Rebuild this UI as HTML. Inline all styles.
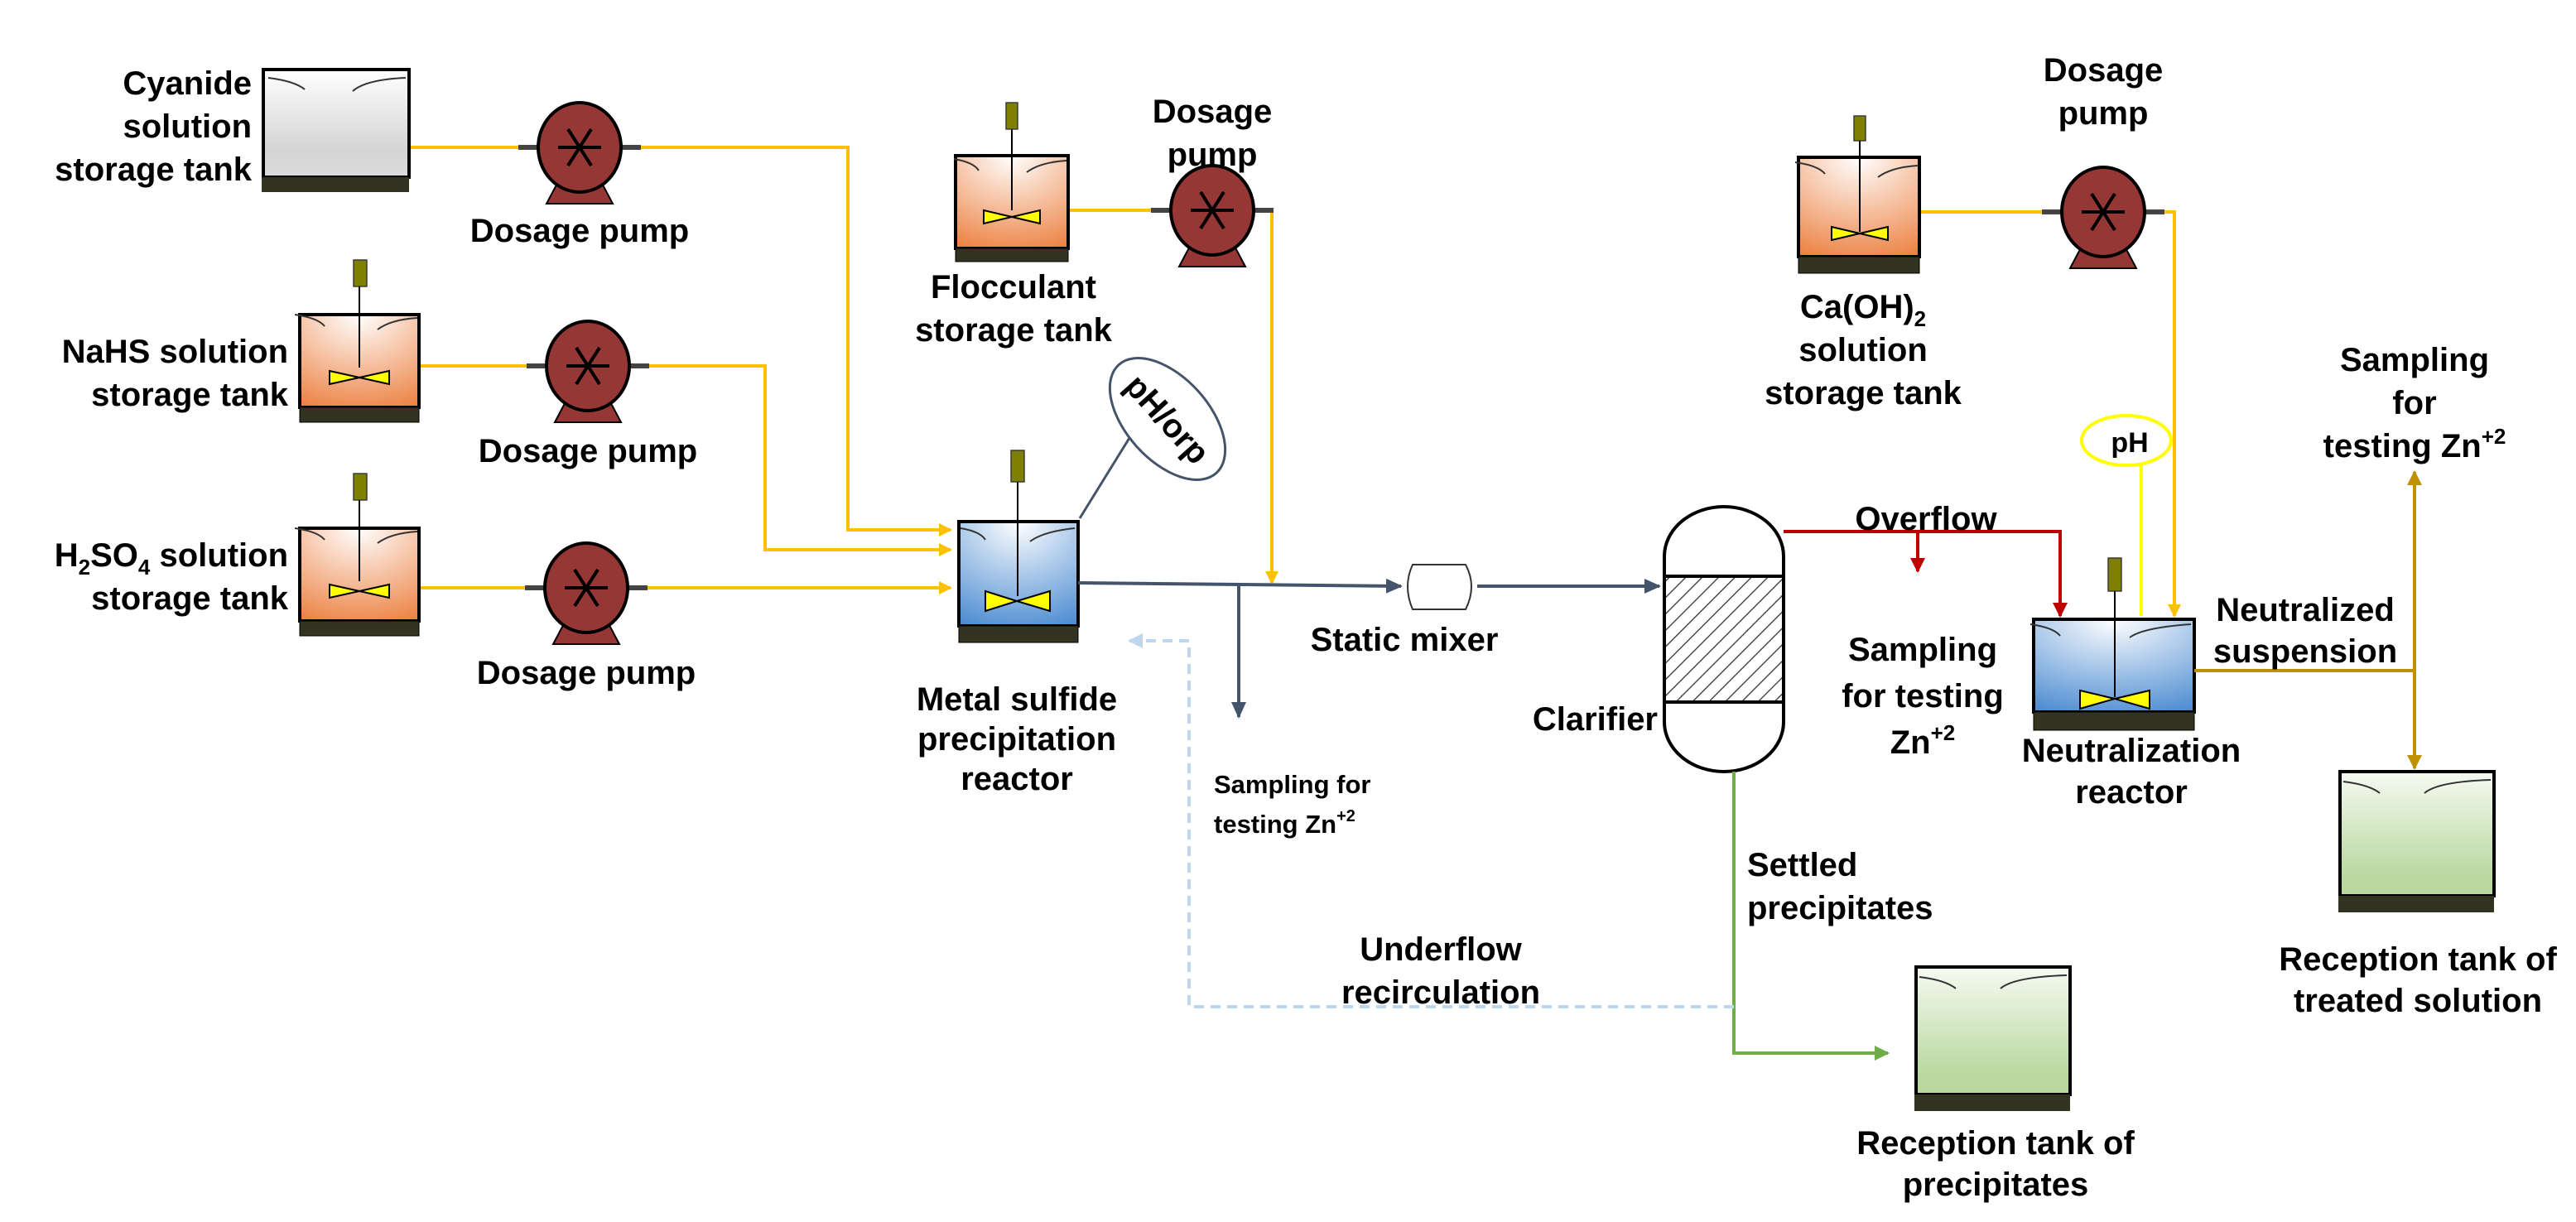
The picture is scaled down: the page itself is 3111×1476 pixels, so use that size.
<!DOCTYPE html>
<html><head><meta charset="utf-8"><style>
html,body{margin:0;padding:0;background:#fff;}
svg{display:block;}
text{font-family:"Liberation Sans",Arial,sans-serif;font-weight:bold;fill:#000;}
</style></head><body>
<svg width="3111" height="1476" viewBox="0 0 1555.5 738" xmlns="http://www.w3.org/2000/svg">
<defs>
<linearGradient id="gGray" x1="0" y1="0" x2="0" y2="1"><stop offset="0" stop-color="#ffffff"/><stop offset="0.75" stop-color="#d4d4d4"/><stop offset="1" stop-color="#dcdcdc"/></linearGradient>
<radialGradient id="gOr" cx="0.5" cy="0" r="1.1"><stop offset="0" stop-color="#ffffff"/><stop offset="1" stop-color="#ec8040"/></radialGradient>
<radialGradient id="gBl" cx="0.5" cy="0" r="1.1"><stop offset="0" stop-color="#ffffff"/><stop offset="1" stop-color="#4a8ad0"/></radialGradient>
<linearGradient id="gGr" x1="0" y1="0" x2="0" y2="1"><stop offset="0" stop-color="#f6faf2"/><stop offset="0.8" stop-color="#bcdaa4"/><stop offset="1" stop-color="#b8d89f"/></linearGradient>
<pattern id="hatch" width="7" height="7" patternUnits="userSpaceOnUse" patternTransform="rotate(45)"><rect width="7" height="7" fill="#fff"/><line x1="0" y1="0" x2="0" y2="7" stroke="#333" stroke-width="1.3"/></pattern>
<marker id="aY" markerWidth="8" markerHeight="8" refX="7" refY="4" orient="auto" markerUnits="userSpaceOnUse"><path d="M0,0 L8,4 L0,8 z" fill="#ffc000"/></marker>
<marker id="aB" markerWidth="10" markerHeight="9" refX="9" refY="4.5" orient="auto" markerUnits="userSpaceOnUse"><path d="M0,0 L10,4.5 L0,9 z" fill="#44546a"/></marker>
<marker id="aR" markerWidth="9" markerHeight="9" refX="8" refY="4.5" orient="auto" markerUnits="userSpaceOnUse"><path d="M0,0 L9,4.5 L0,9 z" fill="#c00000"/></marker>
<marker id="aG" markerWidth="9" markerHeight="9" refX="8" refY="4.5" orient="auto" markerUnits="userSpaceOnUse"><path d="M0,0 L9,4.5 L0,9 z" fill="#70ad47"/></marker>
<marker id="aO" markerWidth="9" markerHeight="9" refX="8" refY="4.5" orient="auto" markerUnits="userSpaceOnUse"><path d="M0,0 L9,4.5 L0,9 z" fill="#bf9000"/></marker>
<marker id="aL" markerWidth="9" markerHeight="9" refX="8" refY="4.5" orient="auto" markerUnits="userSpaceOnUse"><path d="M0,0 L9,4.5 L0,9 z" fill="#bdd7ee"/></marker>
<g id="pump">
<line x1="-37" y1="0" x2="37" y2="0" stroke="#444" stroke-width="3"/>
<polygon points="-20,34 20,34 11,17 -11,17" fill="#953735" stroke="#000" stroke-width="1"/>
<ellipse cx="0" cy="0" rx="25" ry="27" fill="#953735" stroke="#000" stroke-width="2"/>
<line x1="-13" y1="0" x2="13" y2="0" stroke="#000" stroke-width="2"/>
<line x1="-7" y1="-11" x2="7" y2="11" stroke="#000" stroke-width="2"/>
<line x1="7" y1="-11" x2="-7" y2="11" stroke="#000" stroke-width="2"/>
</g>
</defs>

<g fill="none" stroke="#ffc000" stroke-width="2">
<polyline points="247,89 320,89"/>
<polyline points="372,89 512,89 512,320 574,320" marker-end="url(#aY)"/>
<polyline points="254,221 328,221"/>
<polyline points="380,221 462,221 462,332 574,332" marker-end="url(#aY)"/>
<polyline points="254,355 328,355"/>
<polyline points="380,355 574,355" marker-end="url(#aY)"/>
<polyline points="645,127 707,127"/>
<polyline points="757,127 768,127 768,352" marker-end="url(#aY)"/>
<polyline points="1160,128 1245,128"/>
<polyline points="1295,128 1313,128 1313,372" marker-end="url(#aY)"/>
</g>

<!-- Cyanide tank -->
<rect x="159" y="42" width="88" height="65" fill="url(#gGray)" stroke="#000" stroke-width="2"/>
<rect x="158" y="107" width="89" height="9" fill="#333322"/>
<path d="M162,47 q16,2 22,7 M213,55 q8,-7 32,-8" stroke="#333" fill="none" stroke-width="1"/>
<text font-size="20" text-anchor="end"><tspan x="152" y="57">Cyanide</tspan><tspan x="152" y="83">solution</tspan><tspan x="152" y="109">storage tank</tspan></text>

<use href="#pump" x="350" y="89"/>
<text x="350" y="146" font-size="20" text-anchor="middle">Dosage pump</text>

<!-- NaHS tank -->
<rect x="181" y="190" width="72" height="56" fill="url(#gOr)" stroke="#000" stroke-width="2"/>
<rect x="181" y="246" width="72" height="9" fill="#333322" stroke="#000" stroke-width="0.5"/>
<path d="M178,190 q14,2 18,7 M228,199 q8,-6 24,-7" stroke="#333" fill="none"/>
<line x1="217" y1="170" x2="217" y2="222" stroke="#000"/>
<rect x="213.5" y="157" width="8" height="16" fill="#7f7f00" stroke="#333" stroke-width="0.7"/>
<polygon points="199,224 217,228 199,232" fill="#ffff00" stroke="#000"/>
<polygon points="235,224 217,228 235,232" fill="#ffff00" stroke="#000"/>
<text font-size="20" text-anchor="end"><tspan x="174" y="219">NaHS solution</tspan><tspan x="174" y="245">storage tank</tspan></text>
<use href="#pump" x="355" y="221"/>
<text x="355" y="279" font-size="20" text-anchor="middle">Dosage pump</text>

<!-- H2SO4 tank -->
<rect x="181" y="319" width="72" height="56" fill="url(#gOr)" stroke="#000" stroke-width="2"/>
<rect x="181" y="375" width="72" height="9" fill="#333322" stroke="#000" stroke-width="0.5"/>
<path d="M178,319 q14,2 18,7 M228,328 q8,-6 24,-7" stroke="#333" fill="none"/>
<line x1="217" y1="299" x2="217" y2="351" stroke="#000"/>
<rect x="213.5" y="286" width="8" height="16" fill="#7f7f00" stroke="#333" stroke-width="0.7"/>
<polygon points="199,353 217,357 199,361" fill="#ffff00" stroke="#000"/>
<polygon points="235,353 217,357 235,361" fill="#ffff00" stroke="#000"/>
<text font-size="20" text-anchor="end"><tspan x="174" y="342">H<tspan font-size="13" dy="5">2</tspan><tspan dy="-5">SO</tspan><tspan font-size="13" dy="5">4</tspan><tspan dy="-5"> solution</tspan></tspan><tspan x="174" y="368">storage tank</tspan></text>
<use href="#pump" x="354" y="355"/>
<text x="354" y="413" font-size="20" text-anchor="middle">Dosage pump</text>

<!-- Flocculant tank -->
<rect x="577" y="94" width="68" height="56" fill="url(#gOr)" stroke="#000" stroke-width="2"/>
<rect x="577" y="150" width="68" height="8" fill="#333322" stroke="#000" stroke-width="0.5"/>
<path d="M576,96 q12,2 15,7 M620,104 q8,-6 24,-7" stroke="#333" fill="none"/>
<line x1="611" y1="76" x2="611" y2="127" stroke="#000"/>
<rect x="607.5" y="62" width="7" height="16" fill="#7f7f00" stroke="#333" stroke-width="0.7"/>
<polygon points="594,127 611,131 594,135" fill="#ffff00" stroke="#000"/>
<polygon points="628,127 611,131 628,135" fill="#ffff00" stroke="#000"/>
<text font-size="20" text-anchor="middle"><tspan x="612" y="180">Flocculant</tspan><tspan x="612" y="206">storage tank</tspan></text>
<use href="#pump" x="732" y="127"/>
<text font-size="20" text-anchor="middle"><tspan x="732" y="74">Dosage</tspan><tspan x="732" y="100">pump</tspan></text>

<!-- pH/orp -->
<line x1="652" y1="313" x2="686" y2="258" stroke="#44546a" stroke-width="1.5"/>
<g transform="translate(705,253) rotate(48)">
<ellipse cx="0" cy="0" rx="44" ry="25" fill="#fff" stroke="#44546a" stroke-width="1.5"/>
<text x="0" y="7" font-size="20" text-anchor="middle">pH/orp</text>
</g>

<!-- Metal sulfide reactor -->
<rect x="579" y="315" width="72" height="63" fill="url(#gBl)" stroke="#000" stroke-width="2"/>
<rect x="579" y="378" width="72" height="10" fill="#333322" stroke="#000" stroke-width="0.5"/>
<path d="M580,319 q12,2 15,7 M622,327 q8,-6 27,-8" stroke="#333" fill="none"/>
<line x1="614.5" y1="290" x2="614.5" y2="360" stroke="#000"/>
<rect x="610.5" y="272" width="8" height="19" fill="#7f7f00" stroke="#333" stroke-width="0.7"/>
<polygon points="595,357 614,363 595,369" fill="#ffff00" stroke="#000"/>
<polygon points="634,357 614,363 634,369" fill="#ffff00" stroke="#000"/>
<text font-size="20" text-anchor="middle"><tspan x="614" y="429">Metal sulfide</tspan><tspan x="614" y="453">precipitation</tspan><tspan x="614" y="477">reactor</tspan></text>

<g fill="none" stroke="#44546a" stroke-width="2">
<polyline points="651,352 846,354" marker-end="url(#aB)"/>
<polyline points="748,353 748,433" marker-end="url(#aB)"/>
<polyline points="892,354 1002,354" marker-end="url(#aB)"/>
</g>
<text font-size="15.5"><tspan x="733" y="479">Sampling for</tspan><tspan x="733" y="503">testing Zn<tspan font-size="10" dy="-7">+2</tspan></tspan></text>

<path d="M853,341 L885,341 Q892,354 885,368 L853,368 Q847,354 853,341 z" fill="#fff" stroke="#333" stroke-width="1"/>
<text x="848" y="393" font-size="20" text-anchor="middle">Static mixer</text>

<rect x="1005" y="348" width="72" height="76" fill="url(#hatch)"/>
<path d="M1005,336 A36,30 0 0 1 1077,336 L1077,436 A36,30 0 0 1 1005,436 Z" fill="none" stroke="#000" stroke-width="2"/>
<line x1="1005" y1="348" x2="1077" y2="348" stroke="#000" stroke-width="2"/>
<line x1="1005" y1="424" x2="1077" y2="424" stroke="#000" stroke-width="2"/>
<text x="1001" y="441" font-size="20" text-anchor="end">Clarifier</text>

<g fill="none" stroke="#c00000" stroke-width="2">
<polyline points="1077,321 1244,321 1244,372" marker-end="url(#aR)"/>
<polyline points="1158,321 1158,345" marker-end="url(#aR)"/>
</g>
<text x="1163" y="320" font-size="20" text-anchor="middle">Overflow</text>
<text font-size="20" text-anchor="middle"><tspan x="1161" y="399">Sampling</tspan><tspan x="1161" y="427">for testing</tspan><tspan x="1161" y="455">Zn<tspan font-size="13" dy="-8">+2</tspan></tspan></text>

<polyline points="1047,466 1047,636 1140,636" fill="none" stroke="#70ad47" stroke-width="2" marker-end="url(#aG)"/>
<text font-size="20"><tspan x="1055" y="529">Settled</tspan><tspan x="1055" y="555">precipitates</tspan></text>

<polyline points="1047,608 718,608 718,387 682,387" fill="none" stroke="#bdd7ee" stroke-width="2" stroke-dasharray="6,4" marker-end="url(#aL)"/>
<text font-size="20" text-anchor="middle"><tspan x="870" y="580">Underflow</tspan><tspan x="870" y="606">recirculation</tspan></text>

<rect x="1157" y="584" width="93" height="77" fill="url(#gGr)" stroke="#000" stroke-width="2"/>
<rect x="1156" y="661" width="94" height="10" fill="#333322"/>
<path d="M1159,590 q16,2 22,7 M1208,597 q8,-7 40,-8" stroke="#333" fill="none"/>
<text font-size="20" text-anchor="middle"><tspan x="1205" y="697">Reception tank of</tspan><tspan x="1205" y="722">precipitates</tspan></text>

<rect x="1086" y="95" width="73" height="60" fill="url(#gOr)" stroke="#000" stroke-width="2"/>
<rect x="1086" y="155" width="73" height="10" fill="#333322" stroke="#000" stroke-width="0.5"/>
<path d="M1084,98 q14,2 18,7 M1134,107 q8,-6 24,-7" stroke="#333" fill="none"/>
<line x1="1123" y1="82" x2="1123" y2="140" stroke="#000"/>
<rect x="1119.5" y="70" width="7" height="15" fill="#7f7f00" stroke="#333" stroke-width="0.7"/>
<polygon points="1106,137 1123,141 1106,145" fill="#ffff00" stroke="#000"/>
<polygon points="1140,137 1123,141 1140,145" fill="#ffff00" stroke="#000"/>
<text font-size="20" text-anchor="middle"><tspan x="1125" y="192">Ca(OH)<tspan font-size="13" dy="5">2</tspan></tspan><tspan x="1125" y="218">solution</tspan><tspan x="1125" y="244">storage tank</tspan></text>
<use href="#pump" x="1270" y="128"/>
<text font-size="20" text-anchor="middle"><tspan x="1270" y="49">Dosage</tspan><tspan x="1270" y="75">pump</tspan></text>

<line x1="1293" y1="281" x2="1293" y2="372" stroke="#ffff00" stroke-width="2"/>
<ellipse cx="1284" cy="266" rx="27" ry="15" fill="#fff" stroke="#ffff00" stroke-width="2"/>
<text x="1286" y="273" font-size="17" text-anchor="middle">pH</text>

<rect x="1228" y="374" width="97" height="56" fill="url(#gBl)" stroke="#000" stroke-width="2"/>
<rect x="1228" y="430" width="97" height="11" fill="#333322" stroke="#000" stroke-width="0.5"/>
<path d="M1226,377 q14,2 18,7 M1286,385 q8,-6 37,-8" stroke="#333" fill="none"/>
<line x1="1277" y1="350" x2="1277" y2="421" stroke="#000"/>
<rect x="1273" y="337" width="8" height="20" fill="#7f7f00" stroke="#333" stroke-width="0.7"/>
<polygon points="1256,417 1277,422 1256,428" fill="#ffff00" stroke="#000"/>
<polygon points="1298,417 1277,422 1298,428" fill="#ffff00" stroke="#000"/>
<text font-size="20" text-anchor="middle"><tspan x="1287" y="460">Neutralization</tspan><tspan x="1287" y="485">reactor</tspan></text>

<g fill="none" stroke="#bf9000" stroke-width="2">
<polyline points="1325,405 1458,405"/>
<polyline points="1458,405 1458,285" marker-end="url(#aO)"/>
<polyline points="1458,405 1458,464" marker-end="url(#aO)"/>
</g>
<text font-size="20" text-anchor="middle"><tspan x="1392" y="375">Neutralized</tspan><tspan x="1392" y="400">suspension</tspan></text>
<text font-size="20" text-anchor="middle"><tspan x="1458" y="224">Sampling</tspan><tspan x="1458" y="250">for</tspan><tspan x="1458" y="276">testing Zn<tspan font-size="13" dy="-8">+2</tspan></tspan></text>

<rect x="1413" y="466" width="93" height="75" fill="url(#gGr)" stroke="#000" stroke-width="2"/>
<rect x="1412" y="541" width="94" height="10" fill="#333322"/>
<path d="M1415,472 q16,2 22,7 M1464,479 q8,-7 40,-8" stroke="#333" fill="none"/>
<text font-size="20" text-anchor="middle"><tspan x="1460" y="586">Reception tank of</tspan><tspan x="1460" y="611">treated solution</tspan></text>
</svg>
</body></html>
